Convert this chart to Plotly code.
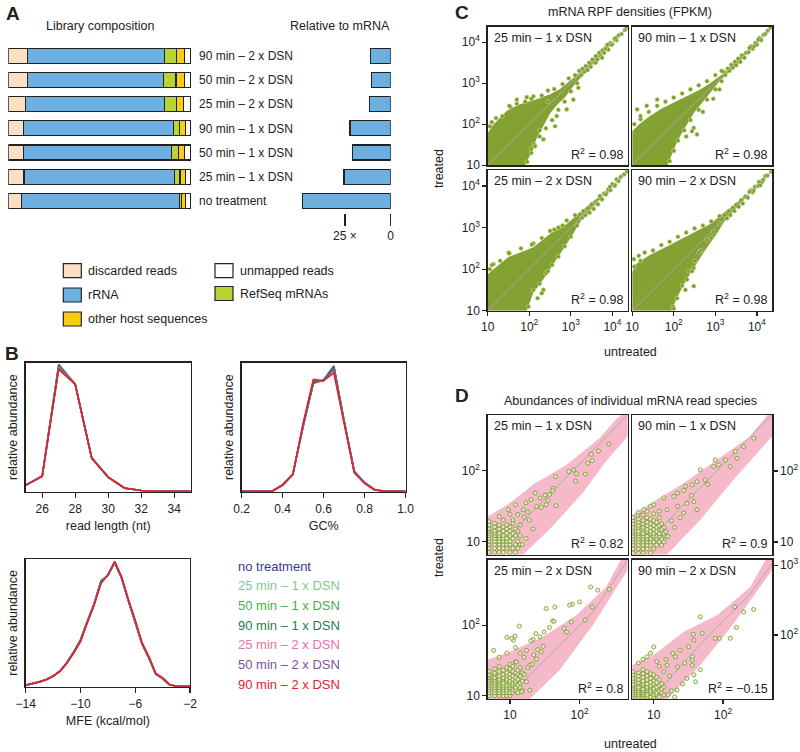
import numpy as np
import plotly.graph_objects as go

# ---------------- DATA ----------------
# Panel A: library composition (fractions), rows listed bottom -> top
lib_rows = ["no treatment", "25 min – 1 x DSN", "50 min – 1 x DSN", "90 min – 1 x DSN",
            "25 min – 2 x DSN", "50 min – 2 x DSN", "90 min – 2 x DSN"]
frac_discarded = [0.071, 0.086, 0.082, 0.082, 0.095, 0.104, 0.104]
frac_rrna = [0.865, 0.823, 0.812, 0.821, 0.759, 0.745, 0.750]
frac_refseq = [0.013, 0.031, 0.036, 0.036, 0.0675, 0.069, 0.0675]
frac_other = [0.022, 0.031, 0.036, 0.031, 0.038, 0.046, 0.042]
frac_unmapped = [0.029, 0.029, 0.033, 0.029, 0.040, 0.036, 0.036]
rel_to_mrna = [48.3, 25.5, 21.0, 22.2, 11.7, 10.4, 10.9]
comp_names = ["discarded reads", "rRNA", "RefSeq mRNAs", "other host sequences", "unmapped reads"]

# Panel B: size / GC / MFE distributions
series_names = ["no treatment", "25 min – 1 x DSN", "50 min – 1 x DSN", "90 min – 1 x DSN",
                "25 min – 2 x DSN", "50 min – 2 x DSN", "90 min – 2 x DSN"]
readlen_x = [25, 26, 27, 28, 29, 30, 31, 32, 33, 34, 35]
readlen_vals = [
    [0.047, 0.117, 0.985, 0.834, 0.260, 0.110, 0.024, 0.005, 0, 0, 0],
    [0.047, 0.116, 0.980, 0.833, 0.259, 0.110, 0.023, 0.005, 0, 0, 0],
    [0.048, 0.118, 0.975, 0.835, 0.258, 0.109, 0.023, 0.005, 0, 0, 0],
    [0.047, 0.117, 0.982, 0.832, 0.260, 0.110, 0.024, 0.005, 0, 0, 0],
    [0.047, 0.116, 0.962, 0.833, 0.258, 0.109, 0.023, 0.005, 0, 0, 0],
    [0.046, 0.116, 0.957, 0.832, 0.257, 0.108, 0.023, 0.005, 0, 0, 0],
    [0.047, 0.116, 0.948, 0.832, 0.258, 0.109, 0.023, 0.005, 0, 0, 0],
]
gc_x = [0.2, 0.25, 0.3, 0.35, 0.4, 0.45, 0.5, 0.55, 0.6, 0.65, 0.7, 0.75, 0.8, 0.85, 0.9, 0.95, 1.0]
gc_vals = [
    [0, 0, 0, 0.002, 0.050, 0.135, 0.500, 0.840, 0.865, 0.975, 0.550, 0.155, 0.068, 0.012, 0, 0, 0],
    [0, 0, 0, 0.002, 0.049, 0.133, 0.505, 0.845, 0.862, 0.970, 0.548, 0.152, 0.066, 0.011, 0, 0, 0],
    [0, 0, 0, 0.002, 0.049, 0.132, 0.510, 0.850, 0.860, 0.965, 0.545, 0.150, 0.065, 0.010, 0, 0, 0],
    [0, 0, 0, 0.002, 0.050, 0.134, 0.505, 0.842, 0.866, 0.972, 0.552, 0.153, 0.067, 0.011, 0, 0, 0],
    [0, 0, 0, 0.001, 0.048, 0.131, 0.520, 0.860, 0.860, 0.945, 0.540, 0.147, 0.063, 0.009, 0, 0, 0],
    [0, 0, 0, 0.001, 0.048, 0.130, 0.515, 0.855, 0.862, 0.950, 0.542, 0.148, 0.064, 0.010, 0, 0, 0],
    [0, 0, 0, 0.000, 0.047, 0.129, 0.530, 0.870, 0.860, 0.920, 0.530, 0.142, 0.060, 0.008, 0, 0, 0],
]
gc_ticks = [0.2, 0.4, 0.6, 0.8, 1.0]
gc_ticktext = ["0.2", "0.4", "0.6", "0.8", "1.0"]
mfe_x = [-14, -13.5, -13, -12.5, -12, -11.5, -11, -10.5, -10, -9.5, -9, -8.5, -8, -7.5, -7,
         -6.5, -6, -5.5, -5, -4.5, -4, -3.5, -3, -2.5, -2]
mfe_vals = [
    [0.008, 0.020, 0.035, 0.052, 0.080, 0.120, 0.185, 0.270, 0.365, 0.510, 0.650, 0.830, 0.870, 0.970, 0.850, 0.670, 0.500, 0.330, 0.220, 0.095, 0.060, 0.012, 0, 0, 0],
    [0.008, 0.020, 0.035, 0.051, 0.079, 0.119, 0.184, 0.268, 0.362, 0.508, 0.648, 0.826, 0.871, 0.972, 0.852, 0.672, 0.504, 0.332, 0.222, 0.096, 0.061, 0.012, 0, 0, 0],
    [0.008, 0.020, 0.034, 0.051, 0.079, 0.118, 0.183, 0.266, 0.360, 0.505, 0.646, 0.822, 0.872, 0.974, 0.854, 0.674, 0.508, 0.334, 0.224, 0.097, 0.062, 0.012, 0, 0, 0],
    [0.008, 0.020, 0.035, 0.052, 0.080, 0.120, 0.184, 0.269, 0.364, 0.509, 0.649, 0.828, 0.870, 0.971, 0.851, 0.671, 0.502, 0.331, 0.221, 0.095, 0.060, 0.012, 0, 0, 0],
    [0.008, 0.020, 0.034, 0.050, 0.078, 0.118, 0.181, 0.262, 0.354, 0.502, 0.642, 0.815, 0.874, 0.978, 0.858, 0.678, 0.515, 0.338, 0.228, 0.099, 0.064, 0.013, 0, 0, 0],
    [0.008, 0.020, 0.034, 0.050, 0.078, 0.117, 0.181, 0.261, 0.352, 0.501, 0.641, 0.812, 0.874, 0.979, 0.859, 0.679, 0.518, 0.339, 0.229, 0.100, 0.065, 0.013, 0, 0, 0],
    [0.008, 0.020, 0.034, 0.050, 0.078, 0.117, 0.180, 0.260, 0.350, 0.500, 0.640, 0.810, 0.875, 0.980, 0.860, 0.680, 0.520, 0.340, 0.230, 0.100, 0.065, 0.013, 0, 0, 0],
]

# Panel C: mRNA RPF densities (log10 FPKM). Dense core outline + individual points
c_titles = ["25 min – 1 x DSN", "90 min – 1 x DSN", "25 min – 2 x DSN", "90 min – 2 x DSN"]
c_r2 = ["0.98", "0.98", "0.98", "0.98"]
c1_core_lx = [1.0, 1.0, 1.1, 1.22, 1.46, 1.78, 2.18, 2.5, 2.74, 2.98, 3.14, 3.3, 3.45, 3.6, 3.72, 3.74, 3.6, 3.45, 3.3, 3.26, 3.06, 2.86, 2.66, 2.5, 2.34, 2.18, 2.02, 1.9]
c1_core_ly = [1.0, 1.78, 1.95, 2.08, 2.33, 2.49, 2.61, 2.73, 2.86, 3.06, 3.19, 3.33, 3.5, 3.64, 3.76, 3.72, 3.56, 3.4, 3.22, 3.17, 2.93, 2.66, 2.46, 2.26, 1.97, 1.66, 1.25, 1.0]
c1_pts_lx = [3.2, 3.25, 3.28, 3.32, 3.36, 3.4, 3.44, 3.48, 3.52, 3.56, 3.6, 3.64, 3.68, 3.72, 3.76, 3.8, 3.85, 3.9,
             3.95, 4.0, 4.05, 4.1, 4.15, 4.22, 4.3, 4.35, 3.83, 3.88, 3.97, 4.08,
             1.05, 1.2, 1.35, 1.55, 1.7, 1.9, 2.05, 2.3, 2.45, 2.6, 2.8, 2.95, 3.1,
             1.95, 2.05, 2.12, 2.25, 2.4, 2.55, 2.7, 2.85, 3.0, 3.15,
             3.18, 1.94, 2.1, 2.66, 2.62, 2.34, 1.7, 3.06, 2.9, 2.14, 1.1, 1.52, 2.45, 2.25, 2.05, 3.6, 3.75]
c1_pts_ly = [3.3, 3.2, 3.35, 3.28, 3.42, 3.32, 3.5, 3.4, 3.58, 3.5, 3.66, 3.58, 3.74, 3.66, 3.8, 3.74, 3.88, 3.82,
             3.98, 3.95, 4.08, 4.05, 4.17, 4.2, 4.3, 4.36, 3.84, 3.94, 3.94, 4.1,
             1.95, 2.15, 2.2, 2.42, 2.5, 2.55, 2.62, 2.7, 2.82, 2.86, 2.98, 3.12, 3.2,
             1.08, 1.3, 1.5, 1.7, 1.9, 2.1, 2.35, 2.55, 2.8, 3.0,
             2.89, 2.66, 2.68, 2.2, 1.95, 1.63, 2.6, 2.6, 2.36, 1.46, 2.05, 2.45, 2.55, 1.85, 1.4, 3.5, 3.62]
c2_core_lx = [1.0, 1.0, 1.15, 1.4, 1.7, 2.0, 2.3, 2.6, 2.85, 3.05, 3.25, 3.4, 3.55, 3.7, 3.72, 3.58, 3.42, 3.3, 3.1, 2.9, 2.7, 2.5, 2.35, 2.2, 2.05, 1.95, 1.85]
c2_core_ly = [1.0, 1.83, 1.98, 2.18, 2.38, 2.53, 2.68, 2.83, 2.98, 3.13, 3.28, 3.45, 3.6, 3.74, 3.7, 3.52, 3.36, 3.24, 3.05, 2.8, 2.55, 2.3, 2.05, 1.8, 1.5, 1.25, 1.0]
c2_pts_lx = [3.2, 3.24, 3.3, 3.34, 3.38, 3.42, 3.47, 3.5, 3.55, 3.6, 3.64, 3.7, 3.74, 3.8, 3.86, 3.9, 3.96, 4.0,
             4.06, 4.1, 4.16, 4.2, 4.26, 4.33, 3.82, 3.93, 4.03,
             1.05, 1.2, 1.4, 1.6, 1.8, 2.0, 2.2, 2.4, 2.6, 2.8, 3.0, 3.15,
             1.9, 2.0, 2.1, 2.25, 2.4, 2.6, 2.8, 3.0, 3.15,
             2.48, 2.56, 2.44, 2.3, 1.12, 1.35, 1.6, 2.95, 2.7, 2.0, 1.2, 3.1]
c2_pts_ly = [3.28, 3.2, 3.36, 3.3, 3.45, 3.38, 3.52, 3.44, 3.6, 3.52, 3.68, 3.62, 3.74, 3.76, 3.9, 3.84, 3.98, 3.94,
             4.1, 4.05, 4.18, 4.2, 4.28, 4.36, 3.86, 3.9, 4.06,
             2.0, 2.12, 2.3, 2.45, 2.55, 2.65, 2.75, 2.85, 2.95, 3.05, 3.2, 3.3,
             1.1, 1.35, 1.6, 1.85, 2.1, 2.35, 2.6, 2.85, 3.05,
             1.91, 1.75, 1.83, 1.7, 2.36, 2.45, 2.6, 2.62, 2.3, 1.35, 2.2, 2.85]
c3_core_lx = [1.0, 1.0, 1.14, 1.5, 2.1, 2.5, 2.9, 3.22, 3.4, 3.58, 3.72, 3.74, 3.58, 3.42, 3.26, 2.98, 2.66, 2.34, 2.1, 1.94]
c3_core_ly = [1.0, 1.88, 2.0, 2.29, 2.53, 2.85, 3.09, 3.38, 3.52, 3.66, 3.78, 3.72, 3.54, 3.38, 3.19, 2.73, 2.25, 1.76, 1.44, 1.0]
c3_pts_lx = [3.22, 3.27, 3.3, 3.35, 3.4, 3.45, 3.5, 3.55, 3.6, 3.65, 3.7, 3.75, 3.8, 3.86, 3.9, 3.95, 4.0, 4.05,
             4.1, 4.15, 4.2, 4.28, 4.35, 3.84, 3.94, 4.06,
             1.05, 1.14, 1.3, 1.5, 1.8, 2.1, 2.3, 2.5, 2.7, 2.9, 3.1,
             1.98, 2.1, 2.25, 2.4, 2.55, 2.7, 2.85, 3.0, 3.15,
             2.34, 2.3, 2.06, 1.52, 2.6, 2.8, 2.45, 2.2, 1.1]
c3_pts_ly = [3.32, 3.24, 3.4, 3.3, 3.46, 3.36, 3.56, 3.45, 3.62, 3.56, 3.76, 3.68, 3.82, 3.84, 3.92, 3.9, 4.05, 4.0,
             4.16, 4.12, 4.22, 4.28, 4.35, 3.8, 3.98, 4.02,
             2.0, 2.12, 2.2, 2.4, 2.5, 2.62, 2.75, 2.92, 3.0, 3.17, 3.3,
             1.1, 1.5, 1.65, 1.9, 2.1, 2.3, 2.55, 2.78, 3.05,
             1.5, 1.42, 2.59, 2.38, 2.95, 3.05, 1.95, 1.3, 2.1]
c4_core_lx = [1.0, 1.0, 1.1, 1.4, 1.8, 2.2, 2.6, 2.9, 3.2, 3.4, 3.56, 3.7, 3.72, 3.56, 3.4, 3.25, 3.0, 2.75, 2.55, 2.4, 2.2, 2.05, 1.95]
c4_core_ly = [1.0, 1.93, 2.13, 2.33, 2.53, 2.73, 2.93, 3.1, 3.36, 3.5, 3.64, 3.76, 3.7, 3.52, 3.36, 3.2, 2.8, 2.45, 2.15, 1.9, 1.55, 1.25, 1.0]
c4_pts_lx = [3.22, 3.28, 3.32, 3.36, 3.42, 3.46, 3.5, 3.56, 3.62, 3.66, 3.72, 3.78, 3.85, 3.9, 3.95, 4.02, 4.05,
             4.12, 4.15, 4.2, 4.25, 4.35, 3.82, 3.92, 4.08,
             1.05, 1.16, 1.3, 1.5, 1.7, 1.9, 2.1, 2.3, 2.5, 2.7, 2.9, 3.1,
             1.98, 2.08, 2.2, 2.35, 2.5, 2.65, 2.8, 2.95, 3.1,
             2.48, 2.44, 2.32, 2.48, 2.28, 2.0, 1.04, 2.6, 2.9, 1.2]
c4_pts_ly = [3.3, 3.22, 3.4, 3.3, 3.48, 3.4, 3.55, 3.5, 3.66, 3.58, 3.75, 3.72, 3.9, 3.85, 3.98, 4.0, 4.1,
             4.1, 4.15, 4.24, 4.25, 4.35, 3.86, 3.9, 4.02,
             2.06, 2.32, 2.4, 2.45, 2.58, 2.66, 2.78, 2.88, 2.98, 3.05, 3.15, 3.28,
             1.1, 1.3, 1.6, 1.95, 2.2, 2.45, 2.7, 2.9, 3.1,
             2.03, 1.95, 1.75, 1.59, 1.5, 1.05, 2.24, 2.4, 2.75, 2.2]
c_diag_l = [1.0, 4.4]

# Panel D: abundances of individual read species (counts: untreated, treated)
d_titles = ["25 min – 1 x DSN", "90 min – 1 x DSN", "25 min – 2 x DSN", "90 min – 2 x DSN"]
d_r2 = ["0.82", "0.9", "0.8", "−0.15"]
d1_points = [(5, 7), (5, 8), (5, 9), (5, 10), (5, 11), (5, 12), (5, 13), (5, 14), (5, 15), (5, 17), (5, 19),
             (6, 7), (6, 8), (6, 9), (6, 10), (6, 11), (6, 12), (6, 13), (6, 14), (6, 16), (6, 18),
             (7, 7), (7, 8), (7, 9), (7, 10), (7, 11), (7, 12), (7, 13), (7, 15), (7, 17),
             (8, 7), (8, 8), (8, 9), (8, 10), (8, 11), (8, 12), (8, 14), (8, 16),
             (9, 8), (9, 9), (9, 10), (9, 11), (9, 13), (9, 15), (9, 17),
             (10, 7), (10, 9), (10, 10), (10, 12), (10, 14), (10, 16),
             (11, 8), (11, 11), (11, 13), (11, 18), (12, 7), (12, 9), (12, 12), (12, 15),
             (13, 8), (13, 10), (13, 14), (14, 9), (14, 12),
             (262, 238), (187, 189), (147, 170), (152, 138), (131, 127), (82, 102), (70, 97), (90, 90),
             (121, 89), (88, 71), (45, 82), (42, 56), (41, 52), (37, 46), (32, 45), (46, 32), (33, 33),
             (23, 48), (27, 41), (20, 39), (17, 35), (24, 31), (15.5, 28), (12, 33), (9.5, 28), (7, 22.5),
             (13, 24), (19, 20), (21.5, 15), (16, 22), (11, 20), (14, 17), (10, 24), (8, 20), (18, 26),
             (28, 30), (35, 38), (15, 9), (17, 11)]
d2_points = [(5, 7), (5, 8), (5, 9), (5, 10), (5, 11), (5, 12), (5, 13), (5, 14), (5, 15), (5, 16), (5, 18), (5, 20), (5, 22),
             (6, 7), (6, 8), (6, 9), (6, 10), (6, 11), (6, 12), (6, 13), (6, 14), (6, 16), (6, 17), (6, 19), (6, 21),
             (7, 7), (7, 8), (7, 9), (7, 10), (7, 11), (7, 12), (7, 13), (7, 15), (7, 16), (7, 18), (7, 20), (7, 24),
             (8, 8), (8, 9), (8, 10), (8, 11), (8, 12), (8, 14), (8, 15), (8, 17), (8, 19), (8, 22),
             (9, 7), (9, 9), (9, 10), (9, 11), (9, 13), (9, 14), (9, 16), (9, 18), (9, 21),
             (10, 8), (10, 10), (10, 12), (10, 13), (10, 15), (10, 17), (10, 20), (10, 25),
             (11, 9), (11, 11), (11, 12), (11, 14), (11, 16), (11, 19),
             (12, 10), (12, 12), (12, 13), (12, 17), (12, 22), (13, 9), (13, 11), (13, 15), (13, 18),
             (14, 10), (14, 13), (14, 16), (15, 12), (15, 14),
             (277, 292), (198, 222), (150, 189), (159, 152), (127, 116), (108, 144), (77, 144), (86, 123),
             (73, 116), (47, 104), (42, 71), (36, 64), (29, 61), (27, 53), (22, 49), (19.4, 44), (14, 42),
             (10, 33.5), (9, 32), (7.2, 28.5), (5.9, 24), (15.6, 28.5), (22, 32), (30, 35), (38, 37),
             (27, 25.6), (42, 28.5), (35, 45), (55, 75), (60, 65), (18, 20), (20, 16), (24, 22), (16, 12),
             (12, 27), (8, 27), (6, 26)]
d3_points = [(5, 10), (5, 11), (5, 12), (5, 13), (5, 14), (5, 15), (5, 16), (5, 17), (5, 18), (5, 19), (5, 20), (5, 22),
             (6, 10), (6, 11), (6, 12), (6, 13), (6, 14), (6, 15), (6, 16), (6, 17), (6, 18), (6, 20), (6, 21), (6, 24),
             (7, 10), (7, 11), (7, 12), (7, 13), (7, 14), (7, 15), (7, 16), (7, 17), (7, 19), (7, 22), (7, 26),
             (8, 10), (8, 11), (8, 12), (8, 13), (8, 14), (8, 15), (8, 17), (8, 18), (8, 20), (8, 23),
             (9, 10), (9, 11), (9, 12), (9, 13), (9, 14), (9, 16), (9, 17), (9, 19), (9, 21), (9, 25),
             (10, 10), (10, 11), (10, 13), (10, 14), (10, 15), (10, 16), (10, 18), (10, 20), (10, 24), (10, 28),
             (11, 11), (11, 12), (11, 14), (11, 15), (11, 17), (11, 19), (11, 22), (11, 26),
             (12, 12), (12, 13), (12, 15), (12, 16), (12, 18), (12, 21), (12, 30),
             (13, 11), (13, 14), (13, 17), (13, 20), (13, 23), (14, 13), (14, 15), (14, 19), (14, 25),
             (15, 12), (15, 16), (15, 21),
             (268, 323), (144, 348), (183, 313), (100, 214), (79, 198), (72, 192), (152, 181), (120, 118),
             (76, 111), (44, 181), (33, 172), (41, 115), (43, 113), (37, 93), (31, 80), (27, 68), (23.5, 76),
             (21.5, 63), (20, 60), (17.3, 44), (13.6, 97), (11.8, 70), (11.2, 61), (10.6, 65), (9, 67),
             (5.8, 44), (12.4, 30), (19.3, 27), (17.3, 15.8), (14.7, 11.4), (19.3, 12), (16, 35), (14, 40),
             (22, 38), (25, 45), (30, 50), (18, 25), (16, 20), (21, 28), (24, 33), (28, 42), (12, 48),
             (9, 40), (7, 35), (60, 90), (65, 80)]
d4_points = [(5, 13), (5, 14), (5, 15), (5, 16), (5, 17), (5, 18), (5, 19), (5, 20), (5, 22), (5, 24), (5, 27), (5, 30),
             (6, 13), (6, 14), (6, 15), (6, 16), (6, 17), (6, 18), (6, 20), (6, 21), (6, 23), (6, 26), (6, 29),
             (7, 13), (7, 14), (7, 15), (7, 16), (7, 17), (7, 19), (7, 20), (7, 22), (7, 25), (7, 28), (7, 32),
             (8, 13), (8, 14), (8, 16), (8, 17), (8, 18), (8, 20), (8, 23), (8, 26), (8, 30),
             (9, 13), (9, 15), (9, 16), (9, 18), (9, 19), (9, 21), (9, 24), (9, 28),
             (10, 13), (10, 14), (10, 16), (10, 17), (10, 20), (10, 22), (10, 27),
             (11, 14), (11, 15), (11, 18), (11, 21), (11, 25), (12, 13), (12, 16), (12, 19), (12, 23),
             (13, 15), (13, 17), (13, 20), (14, 14), (14, 18),
             (276, 233), (198, 215), (147, 254), (156, 129), (127, 90), (89, 90), (77, 90), (47, 183),
             (37, 103), (50, 106), (38, 85), (32, 68), (36, 49), (36, 44), (36, 37), (38, 27), (47, 32),
             (40, 21.5), (24, 61), (20.5, 49), (15.6, 37), (10, 68), (8, 49), (7, 45), (6, 40), (21.7, 16.4),
             (18, 16), (26, 20), (30, 24), (14, 30), (17, 26), (12, 36), (22, 35), (28, 40), (19, 55),
             (11, 42), (9, 55), (15, 45), (16, 14), (20, 13)]
# band outlines (log10 untreated, log10 treated)
d1_band_lx = [0.6, 1.07, 1.57, 2.05, 2.38, 2.75, 2.75, 2.74, 2.52, 2.29, 1.81, 1.33, 0.995, 0.6]
d1_band_ly = [0.7, 0.7, 1.17, 1.69, 2.13, 2.55, 2.9, 2.9, 2.72, 2.46, 2.08, 1.80, 1.54, 1.3]
d2_band_lx = [0.6, 1.07, 1.67, 2.15, 2.78, 2.78, 2.73, 2.39, 1.913, 1.432, 1.0, 0.6]
d2_band_ly = [0.7, 0.7, 1.31, 1.88, 2.57, 2.9, 2.9, 2.49, 2.16, 1.83, 1.57, 1.33]
d3_band_lx = [0.6, 1.18, 1.714, 2.19, 2.75, 2.75, 2.66, 2.381, 1.952, 1.476, 1.0, 0.6]
d3_band_ly = [0.85, 0.85, 1.363, 2.0, 2.88, 3.05, 3.05, 2.542, 2.141, 1.835, 1.622, 1.48]
d4_band_lx = [0.6, 1.1, 1.673, 2.153, 2.78, 2.78, 2.68, 2.393, 1.913, 1.432, 1.0, 0.6]
d4_band_ly = [0.99, 0.99, 1.571, 2.167, 3.03, 3.2, 3.2, 2.69, 2.286, 2.048, 1.714, 1.53]
# gray reference line through each band (log10 untreated, log10 treated)
d1_diag_lx = [0.6, 2.8]
d1_diag_ly = [0.695, 2.895]
d2_diag_lx = [0.6, 2.8]
d2_diag_ly = [0.695, 2.895]
d3_diag_lx = [0.9, 1.476, 2.19, 2.6, 2.75]
d3_diag_ly = [0.92, 1.48, 2.18, 2.79, 3.02]
d4_diag_lx = [0.9, 1.673, 2.393, 2.75]
d4_diag_ly = [1.02, 1.87, 2.59, 3.08]

# ---------------- STYLE ----------------
W, H = 800, 752
FONT = "Liberation Sans, Arial, Helvetica, sans-serif"
INK = "#222222"
comp_colors = ["#fde0c3", "#6cb0e2", "#b9d435", "#f7cc12", "#ffffff"]
series_colors = ["#3a3a8e", "#7fca90", "#4bae4b", "#2a7c4c", "#ea72aa", "#7c50a2", "#e0242a"]
C_PT = "#7d9c2c"
C_CORE = "#84a233"
PINK = "#f6b9c9"
GRAY = "#aaaaaa"


def dx(a, b):
    return [a / W, b / W]


def dy(top, bottom):
    return [1 - bottom / H, 1 - top / H]


def P(v):
    return list(10 ** np.asarray(v, dtype=float))


fig = go.Figure()

# ---- Panel A ----
for vals, name, col in zip([frac_discarded, frac_rrna, frac_refseq, frac_other, frac_unmapped],
                           comp_names, comp_colors):
    fig.add_trace(go.Bar(x=vals, y=lib_rows, orientation="h", name=name, xaxis="x", yaxis="y",
                         marker=dict(color=col, line=dict(color=INK, width=1.2)),
                         showlegend=False, hoverinfo="skip"))
fig.add_trace(go.Bar(x=rel_to_mrna, y=lib_rows, orientation="h", xaxis="x2", yaxis="y2",
                     marker=dict(color=comp_colors[1], line=dict(color=INK, width=1.2)),
                     showlegend=False, hoverinfo="skip"))

# ---- Panel B ----
for ax, xs, rows in [("3", readlen_x, readlen_vals), ("4", gc_x, gc_vals), ("5", mfe_x, mfe_vals)]:
    for name, col, ys in zip(series_names, series_colors, rows):
        fig.add_trace(go.Scatter(x=xs, y=ys, mode="lines", name=name, xaxis="x" + ax, yaxis="y" + ax,
                                 line=dict(color=col, width=1.6), showlegend=False, hoverinfo="skip"))

# ---- Panel C ----
c_sets = [(c1_core_lx, c1_core_ly, c1_pts_lx, c1_pts_ly), (c2_core_lx, c2_core_ly, c2_pts_lx, c2_pts_ly),
          (c3_core_lx, c3_core_ly, c3_pts_lx, c3_pts_ly), (c4_core_lx, c4_core_ly, c4_pts_lx, c4_pts_ly)]
for i, (cx, cy, px_, py_) in enumerate(c_sets):
    ax = str(6 + i)
    fig.add_trace(go.Scatter(x=P(cx), y=P(cy), mode="lines", fill="toself", fillcolor=C_CORE,
                             line=dict(width=0, color=C_CORE), xaxis="x" + ax, yaxis="y" + ax,
                             showlegend=False, hoverinfo="skip"))
    fig.add_trace(go.Scatter(x=P(px_), y=P(py_), mode="markers", xaxis="x" + ax, yaxis="y" + ax,
                             marker=dict(size=4.2, color=C_PT, line=dict(color="#c9dc8e", width=0.6)),
                             showlegend=False, hoverinfo="skip"))
    fig.add_trace(go.Scatter(x=P(c_diag_l), y=P(c_diag_l), mode="lines", xaxis="x" + ax, yaxis="y" + ax,
                             line=dict(color=GRAY, width=1), showlegend=False, hoverinfo="skip"))

# ---- Panel D ----
d_sets = [(d1_band_lx, d1_band_ly, d1_diag_lx, d1_diag_ly, d1_points),
          (d2_band_lx, d2_band_ly, d2_diag_lx, d2_diag_ly, d2_points),
          (d3_band_lx, d3_band_ly, d3_diag_lx, d3_diag_ly, d3_points),
          (d4_band_lx, d4_band_ly, d4_diag_lx, d4_diag_ly, d4_points)]
for i, (bx, by, gx, gy, pts) in enumerate(d_sets):
    ax = str(10 + i)
    fig.add_trace(go.Scatter(x=P(bx), y=P(by), mode="lines", fill="toself", fillcolor=PINK,
                             line=dict(width=0, color=PINK), xaxis="x" + ax, yaxis="y" + ax,
                             showlegend=False, hoverinfo="skip"))
    fig.add_trace(go.Scatter(x=P(gx), y=P(gy), mode="lines", xaxis="x" + ax, yaxis="y" + ax,
                             line=dict(color=GRAY, width=1), showlegend=False, hoverinfo="skip"))
    fig.add_trace(go.Scatter(x=[p[0] for p in pts], y=[p[1] for p in pts], mode="markers",
                             xaxis="x" + ax, yaxis="y" + ax,
                             marker=dict(size=4, color="rgba(240,245,215,0.7)", line=dict(color="#76a02e", width=0.9)),
                             showlegend=False, hoverinfo="skip"))

# ---------------- LAYOUT ----------------
tickfont = dict(family=FONT, size=12, color=INK)
box = dict(showline=True, mirror=True, linewidth=1.4, linecolor=INK, showgrid=False, zeroline=False,
           automargin=False)

lay = dict(
    width=W, height=H, margin=dict(l=0, r=0, t=0, b=0, autoexpand=False),
    paper_bgcolor="white", plot_bgcolor="white",
    barmode="stack", bargap=0.38, showlegend=False,
    font=dict(family=FONT, size=12, color=INK),
)

# A axes
lay["xaxis"] = dict(domain=dx(8.3, 191), range=[0, 1], visible=False, anchor="y", automargin=False)
lay["yaxis"] = dict(domain=dy(43.7, 212.9), type="category", categoryorder="array", categoryarray=lib_rows,
                    side="right", anchor="x", showline=False, showgrid=False, zeroline=False, ticks="",
                    ticklabelstandoff=7, tickfont=tickfont, automargin=False)
lay["xaxis2"] = dict(domain=dx(295, 390.7), range=[52.3, 0], anchor="y2", showline=False, showgrid=False,
                     zeroline=False, tickvals=[0, 25], ticktext=["0", "25 ×"], ticks="outside", ticklen=12,
                     tickwidth=1.5, tickcolor=INK, tickfont=tickfont, automargin=False)
lay["yaxis2"] = dict(domain=dy(43.7, 212.9), type="category", categoryorder="array", categoryarray=lib_rows,
                     anchor="x2", visible=False, automargin=False)

# B axes
b_specs = [("3", dx(25.7, 190.7), dy(362.7, 491.7), [25, 35], [26, 28, 30, 32, 34], None, "read length (nt)"),
           ("4", dx(241.7, 405.5), dy(362.7, 491.7), [0.2, 1.0], gc_ticks, gc_ticktext, "GC%"),
           ("5", dx(25.7, 190.0), dy(559, 686.7), [-14, -2], [-14, -10, -6, -2], ["−14", "−10", "−6", "−2"], "MFE (kcal/mol)")]
for ax, xd, yd, xr, tv, tt, title in b_specs:
    xa = dict(domain=xd, range=xr, anchor="y" + ax, tickvals=tv, ticks="outside", ticklen=5, tickwidth=1.3,
              tickcolor=INK, tickfont=tickfont, title=dict(text=title, standoff=6, font=dict(size=12.5)), **box)
    if tt:
        xa["ticktext"] = tt
    lay["xaxis" + ax] = xa
    lay["yaxis" + ax] = dict(domain=yd, range=[-0.004, 1.0], anchor="x" + ax, showticklabels=False, ticks="",
                             title=dict(text="relative abundance", standoff=4, font=dict(size=12.5)), **box)

# C axes
c_tv = [10, 100, 1000, 10000]
c_tt = ["10", "10<sup>2</sup>", "10<sup>3</sup>", "10<sup>4</sup>"]
c_specs = [("6", dx(487.7, 627.8), dy(26.7, 165.2), False, True),
           ("7", dx(632.2, 772.3), dy(26.7, 165.2), False, False),
           ("8", dx(487.7, 627.8), dy(170.3, 310.7), True, True),
           ("9", dx(632.2, 772.3), dy(170.3, 310.7), True, False)]
for ax, xd, yd, showx, showy in c_specs:
    lay["xaxis" + ax] = dict(domain=xd, type="log", range=[1, 4.37], anchor="y" + ax, tickvals=c_tv, ticktext=c_tt,
                             ticks="outside" if showx else "", ticklen=4, tickwidth=1.3, tickcolor=INK,
                             showticklabels=showx, tickfont=tickfont, **box)
    lay["yaxis" + ax] = dict(domain=yd, type="log", range=[1, 4.38], anchor="x" + ax, tickvals=c_tv, ticktext=c_tt,
                             ticks="outside" if showy else "", ticklen=4, tickwidth=1.3, tickcolor=INK,
                             showticklabels=showy, tickfont=tickfont, **box)

# D axes
d_specs = [("10", dx(487.7, 627.6), dy(415, 554.6), [0.68, 2.69], [0.813, 2.785], False, "left", [10, 100]),
           ("11", dx(632.2, 772.3), dy(415, 554.6), [0.689, 2.71], [0.821, 2.793], False, "right", [10, 100]),
           ("12", dx(487.7, 627.6), dy(559.6, 699), [0.68, 2.69], [0.953, 2.93], True, "left", [10, 100]),
           ("13", dx(632.2, 772.3), dy(559.6, 699), [0.689, 2.71], [1.086, 3.081], True, "right", [100, 1000])]
d_lab = {10: "10", 100: "10<sup>2</sup>", 1000: "10<sup>3</sup>"}
for ax, xd, yd, xr, yr, showx, yside, ytv in d_specs:
    lay["xaxis" + ax] = dict(domain=xd, type="log", range=xr, anchor="y" + ax, tickvals=[10, 100],
                             ticktext=["10", "10<sup>2</sup>"], ticks="outside" if showx else "", ticklen=4,
                             tickwidth=1.3, tickcolor=INK, showticklabels=showx, tickfont=tickfont, **box)
    lay["yaxis" + ax] = dict(domain=yd, type="log", range=yr, anchor="x" + ax, side=yside, tickvals=ytv,
                             ticktext=[d_lab[v] for v in ytv], ticks="outside", ticklen=4, tickwidth=1.3,
                             tickcolor=INK, tickfont=tickfont, **box)

fig.update_layout(**lay)

# ---------------- ANNOTATIONS / SHAPES ----------------
ann = []


def txt(x, y, s, size=12, color=INK, xanchor="center", yanchor="middle", bold=False, angle=0):
    ann.append(dict(x=x / W, y=1 - y / H, xref="paper", yref="paper", text=("<b>%s</b>" % s) if bold else s,
                    showarrow=False, xanchor=xanchor, yanchor=yanchor, textangle=angle,
                    font=dict(family=FONT, size=size, color=color)))


txt(13, 14, "A", size=19, bold=True)
txt(12, 353, "B", size=19, bold=True)
txt(462, 13, "C", size=19, bold=True)
txt(462, 395, "D", size=19, bold=True)
txt(100, 26, "Library composition", size=12.5)
txt(340, 26, "Relative to mRNA", size=12.5)
txt(630, 12, "mRNA RPF densities (FPKM)", size=12.5)
txt(630, 401, "Abundances of individual mRNA read species", size=12.5)
txt(439, 168, "treated", size=12.5, angle=-90)
txt(630, 352, "untreated", size=12.5)
txt(439, 557, "treated", size=12.5, angle=-90)
txt(630, 744, "untreated", size=12.5)

# Panel A legend
leg_pos = [(63.3, 270.7), (63.3, 295), (63.3, 319), (215, 270.7), (215, 293.5)]
leg_order = [0, 1, 3, 4, 2]
shapes = []
for (lx, ly), k in zip(leg_pos, leg_order):
    shapes.append(dict(type="rect", xref="paper", yref="paper", x0=lx / W, x1=(lx + 18) / W,
                       y0=1 - (ly + 7) / H, y1=1 - (ly - 7) / H, fillcolor=comp_colors[k],
                       line=dict(color=INK, width=1.2)))
    txt(lx + 22.5, ly, comp_names[k], size=12.5, xanchor="left")

# Panel B legend
for i, (name, col) in enumerate(zip(series_names, series_colors)):
    txt(235.7, 566 + 19.7 * i, name, size=13, color=col, xanchor="left")

# Panel C / D in-panel labels
for i, ax in enumerate(["6", "7", "8", "9"]):
    ann.append(dict(x=0.03, y=0.985, xref="x%s domain" % ax, yref="y%s domain" % ax, text=c_titles[i],
                    showarrow=False, xanchor="left", yanchor="top", font=dict(family=FONT, size=12.5, color=INK)))
    ann.append(dict(x=0.985, y=0.01, xref="x%s domain" % ax, yref="y%s domain" % ax,
                    text="R<sup>2</sup> = " + c_r2[i], showarrow=False, xanchor="right", yanchor="bottom",
                    font=dict(family=FONT, size=12.5, color=INK)))
for i, ax in enumerate(["10", "11", "12", "13"]):
    ann.append(dict(x=0.03, y=0.985, xref="x%s domain" % ax, yref="y%s domain" % ax, text=d_titles[i],
                    showarrow=False, xanchor="left", yanchor="top", font=dict(family=FONT, size=12.5, color=INK)))
    ann.append(dict(x=0.985, y=0.01, xref="x%s domain" % ax, yref="y%s domain" % ax,
                    text="R<sup>2</sup> = " + d_r2[i], showarrow=False, xanchor="right", yanchor="bottom",
                    font=dict(family=FONT, size=12.5, color=INK)))

fig.update_layout(annotations=ann, shapes=shapes)
fig.write_html("out.html", config={"displayModeBar": False, "staticPlot": True},
               post_script="document.body.style.margin='0px';document.body.style.padding='0px';")
